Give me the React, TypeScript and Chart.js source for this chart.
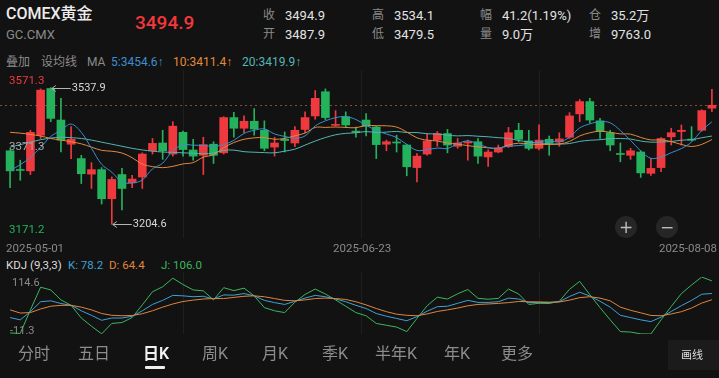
import React, { useEffect, useRef } from "react";
import { Chart, registerables } from "chart.js";

Chart.register(...registerables);

// ---------------- data ----------------
const dates = [
  "2025-05-01", "2025-05-02", "2025-05-05", "2025-05-06", "2025-05-07", "2025-05-08", "2025-05-09",
  "2025-05-12", "2025-05-13", "2025-05-14", "2025-05-15", "2025-05-16",
  "2025-05-19", "2025-05-20", "2025-05-21", "2025-05-22", "2025-05-23",
  "2025-05-27", "2025-05-28", "2025-05-29", "2025-05-30",
  "2025-06-02", "2025-06-03", "2025-06-04", "2025-06-05", "2025-06-06",
  "2025-06-09", "2025-06-10", "2025-06-11", "2025-06-12", "2025-06-13",
  "2025-06-16", "2025-06-17", "2025-06-18", "2025-06-20",
  "2025-06-23", "2025-06-24", "2025-06-25", "2025-06-26", "2025-06-27",
  "2025-06-30", "2025-07-01", "2025-07-02", "2025-07-03", "2025-07-04",
  "2025-07-07", "2025-07-08", "2025-07-09", "2025-07-10", "2025-07-11",
  "2025-07-14", "2025-07-15", "2025-07-16", "2025-07-17", "2025-07-18",
  "2025-07-21", "2025-07-22", "2025-07-23", "2025-07-24", "2025-07-25",
  "2025-07-28", "2025-07-29", "2025-07-30", "2025-07-31", "2025-08-01",
  "2025-08-04", "2025-08-05", "2025-08-06", "2025-08-07", "2025-08-08",
];

const opens = [
  3384, 3338, 3335, 3422, 3536, 3459, 3400, 3365, 3327, 3338,
  3267, 3326, 3306, 3320, 3384, 3403, 3376, 3429, 3386, 3373,
  3400, 3379, 3465, 3439, 3456, 3434, 3393, 3412, 3403, 3436,
  3469, 3528, 3446, 3467, 3432, 3459, 3442, 3400, 3405, 3398,
  3343, 3376, 3410, 3426, 3395, 3403, 3406, 3369, 3381, 3394,
  3434, 3408, 3390, 3412, 3406, 3417, 3474, 3504, 3457, 3428,
  3377, 3373, 3381, 3329, 3343, 3418, 3431, 3412, 3434, 3487.9,
];
const highs = [
  3386, 3361, 3434, 3535, 3537.9, 3512, 3443, 3373, 3355, 3343,
  3320, 3341, 3324, 3379, 3414, 3434, 3455, 3432, 3412, 3417,
  3406, 3467, 3478, 3469, 3487, 3457, 3417, 3430, 3443, 3479,
  3531, 3535, 3482, 3479, 3442, 3475, 3444, 3410, 3422, 3400,
  3377, 3426, 3431, 3436, 3414, 3410, 3414, 3386, 3398, 3441,
  3451, 3434, 3447, 3420, 3428, 3477, 3509, 3512, 3463, 3434,
  3403, 3390, 3384, 3365, 3416, 3439, 3447, 3443, 3484, 3534.1,
];
const lows = [
  3294, 3312, 3326, 3414, 3455, 3381, 3365, 3304, 3292, 3254,
  3204.6, 3240, 3294, 3292, 3376, 3363, 3371, 3371, 3361, 3326,
  3353, 3376, 3417, 3428, 3422, 3384, 3371, 3381, 3394, 3428,
  3461, 3460, 3444, 3441, 3417, 3420, 3365, 3384, 3381, 3323,
  3308, 3373, 3395, 3379, 3390, 3361, 3353, 3346, 3379, 3392,
  3406, 3386, 3386, 3373, 3395, 3414, 3455, 3452, 3414, 3384,
  3357, 3363, 3319, 3324, 3333, 3398, 3398, 3408, 3432, 3479.5,
];
const closes = [
  3335, 3336, 3429, 3532, 3463, 3410, 3412, 3328, 3338, 3267,
  3314, 3292, 3315, 3376, 3402, 3384, 3444, 3387, 3371, 3399,
  3373, 3465, 3439, 3456, 3437, 3390, 3403, 3409, 3434, 3465,
  3512, 3465, 3448, 3447, 3429, 3444, 3399, 3406, 3403, 3345,
  3371, 3408, 3426, 3398, 3403, 3406, 3371, 3381, 3391, 3428,
  3412, 3390, 3410, 3403, 3413, 3469, 3504, 3459, 3431, 3398,
  3375, 3384, 3330, 3341, 3414, 3428, 3434, 3410, 3482, 3494.9,
];

const ma5 = [
  3336, 3350, 3368, 3392, 3419.0, 3434.0, 3449.2, 3429.0, 3390.2, 3351.0,
  3331.8, 3307.8, 3305.2, 3312.8, 3339.8, 3353.8, 3384.2, 3398.6, 3397.6, 3397.0,
  3394.8, 3399.0, 3409.4, 3426.4, 3434.0, 3437.4, 3425.0, 3419.0, 3414.6, 3420.2,
  3444.6, 3457.0, 3464.8, 3467.4, 3460.2, 3446.6, 3433.4, 3425.0, 3416.2, 3399.4,
  3384.8, 3386.6, 3390.6, 3389.6, 3401.2, 3408.2, 3400.8, 3391.8, 3390.4, 3395.4,
  3396.6, 3400.4, 3406.2, 3408.6, 3405.6, 3417.0, 3439.8, 3449.6, 3455.2, 3452.2,
  3433.4, 3409.4, 3383.6, 3365.6, 3368.8, 3379.4, 3389.4, 3405.4, 3433.6, 3454.6,
];
const ma10 = [
  3429, 3427, 3424, 3420, 3414, 3410, 3406, 3401, 3393, 3385.0,
  3382.9, 3378.5, 3367.1, 3351.5, 3345.4, 3342.8, 3346.0, 3351.9, 3355.2, 3368.4,
  3374.3, 3391.6, 3404.0, 3412.0, 3415.5, 3416.1, 3412.0, 3414.2, 3420.5, 3427.1,
  3441.0, 3441.0, 3441.9, 3441.0, 3440.2, 3445.6, 3445.2, 3444.9, 3441.8, 3429.8,
  3415.7, 3410.0, 3407.8, 3402.9, 3400.3, 3396.5, 3393.7, 3391.2, 3390.0, 3398.3,
  3402.4, 3400.6, 3399.0, 3399.5, 3400.5, 3406.8, 3420.1, 3427.9, 3431.9, 3428.9,
  3425.2, 3424.6, 3416.6, 3410.4, 3410.5, 3406.4, 3399.4, 3394.5, 3399.6, 3411.4,
];
const ma20 = [
  3393, 3399, 3405, 3411, 3415, 3417, 3416, 3414, 3410, 3405,
  3400, 3395, 3390, 3386, 3383, 3381, 3380, 3379, 3378, 3376.7,
  3378.6, 3385.1, 3385.6, 3381.8, 3380.5, 3379.5, 3379.0, 3383.1, 3387.9, 3397.8,
  3407.7, 3416.3, 3423.0, 3426.5, 3427.9, 3430.9, 3428.6, 3429.6, 3431.2, 3428.5,
  3428.4, 3425.5, 3424.9, 3422.0, 3420.3, 3421.1, 3419.5, 3418.1, 3415.9, 3414.1,
  3409.1, 3405.3, 3403.4, 3401.2, 3400.4, 3401.7, 3406.9, 3409.6, 3411.0, 3413.6,
  3413.8, 3412.6, 3407.8, 3405.0, 3405.5, 3406.6, 3409.8, 3411.2, 3415.8, 3419.9,
];

const kValues = [
  25, 20, 38, 60, 62, 56, 52, 40, 30, 19,
  24, 24, 28, 40, 54, 63, 74, 73, 71, 72,
  66, 75, 74.5, 78, 73, 63, 58, 54, 61, 68,
  74, 71, 66, 60, 52, 45, 34, 28, 23, 18,
  27, 39, 49, 50, 56.5, 63, 58.5, 58.5, 60, 68,
  66, 58, 58.5, 58, 60, 71.5, 81, 72.5, 61, 48,
  30, 25, 20, 16, 26, 38.5, 51.3, 63, 76.5, 78.2,
];
const dValues = [
  42, 35, 36, 44, 50, 52, 52, 48, 42, 34,
  30, 29, 29.5, 33.5, 40, 48, 55, 60.5, 63.5, 66,
  67, 67, 69.5, 72, 73, 71, 67, 63, 62, 64,
  67, 68, 67, 65, 60, 53, 45, 38, 32.5, 30,
  29, 33, 38.5, 42, 46, 51, 54, 55, 56.3, 58,
  60.5, 60, 59.5, 59, 59.5, 63.5, 69, 71, 68, 62,
  48, 41, 35.5, 29.7, 29, 33, 38, 46, 57, 64.4,
];
const jValues = [
  -9, -10, 42, 92, 86, 64, 52, 24, 6, -11,
  12, 14, 25, 53, 82, 93, 112, 98, 86, 84,
  64, 91, 84.5, 90, 73, 47, 40, 36, 59, 76,
  88, 77, 64, 50, 36, 29, 12, 8, 4, -6,
  23, 51, 70, 66, 77.5, 87, 67.5, 65.5, 67.4, 88,
  77, 54, 56.5, 56, 61, 87.5, 105, 75.5, 47, 20,
  -6, -7, -11, -11.3, 20, 49.5, 78, 97, 114.6, 106.0,
];

const priceAxisLabels = [3571.3, 3371.3, 3171.2];
const kdjAxisLabels = [114.6, -11.3];
const dateTickLabels = ["2025-05-01", "2025-06-23", "2025-08-08"];
const lastPrice = 3494.9;

const statLabels = ["收", "高", "幅", "仓", "开", "低", "量", "增"];
const statValues = ["3494.9", "3534.1", "41.2(1.19%)", "35.2万", "3487.9", "3479.5", "9.0万", "9763.0"];
const maLegend = ["5:3454.6↑", "10:3411.4↑", "20:3419.9↑"];
const kdjLegend = ["K: 78.2", "D: 64.4", "J: 106.0"];
const tabs = ["分时", "五日", "日K", "周K", "月K", "季K", "半年K", "年K", "更多"];

// ---------------- styles ----------------
const FONT = "Roboto, 'Liberation Sans', 'Noto Sans CJK SC', sans-serif";
const BG = "#121212";
const RED = "#ee3a3f";
const GREEN = "#24b25c";
const C_MA5 = "#3b8fd0";
const C_MA10 = "#e5893b";
const C_MA20 = "#52b6b4";
const C_K = "#3ea2d6";
const C_D = "#e0853d";
const C_J = "#3db55d";
const GRID = "rgba(255,255,255,0.055)";

function drawQuarterGrid(chart: any, fromTop: number) {
  const { ctx, chartArea: a } = chart;
  ctx.save();
  ctx.strokeStyle = GRID;
  ctx.lineWidth = 1;
  for (let k = 1; k < 4; k++) {
    const x = Math.round(a.left + ((a.right - a.left) * k) / 4) + 0.5;
    ctx.beginPath();
    ctx.moveTo(x, fromTop);
    ctx.lineTo(x, a.bottom);
    ctx.stroke();
  }
  ctx.restore();
}

function drawMark(ctx: CanvasRenderingContext2D, x: number, y: number, label: string) {
  const yy = Math.round(y) + 0.5;
  ctx.strokeStyle = "#b5b5b5";
  ctx.lineWidth = 1;
  ctx.beginPath();
  ctx.moveTo(x + 1, yy);
  ctx.lineTo(x + 20, yy);
  ctx.moveTo(x + 5, yy - 3);
  ctx.lineTo(x + 1, yy);
  ctx.lineTo(x + 5, yy + 3);
  ctx.stroke();
  ctx.fillStyle = "#d6d6d6";
  ctx.font = `11px ${FONT}`;
  ctx.textAlign = "left";
  ctx.textBaseline = "middle";
  ctx.fillText(label, x + 21, yy);
}

const mainOverlay = {
  id: "mainOverlay",
  beforeDatasetsDraw(chart: any) {
    drawQuarterGrid(chart, 0);
    const { ctx } = chart;
    const y = Math.round(chart.scales.y.getPixelForValue(lastPrice)) + 0.5;
    ctx.save();
    ctx.setLineDash([2, 3]);
    ctx.strokeStyle = "rgba(205,120,70,0.6)";
    ctx.lineWidth = 1;
    ctx.beginPath();
    ctx.moveTo(0, y);
    ctx.lineTo(chart.width, y);
    ctx.stroke();
    ctx.restore();
  },
  afterDatasetsDraw(chart: any) {
    const { ctx, chartArea: a, scales } = chart;
    const xs = scales.x;
    const ys = scales.y;
    ctx.save();
    ctx.textBaseline = "middle";
    ctx.textAlign = "left";
    ctx.font = `11.5px ${FONT}`;
    const [top, mid, bottom] = priceAxisLabels;
    ctx.fillStyle = RED;
    ctx.fillText(top.toFixed(1), 9, ys.getPixelForValue(top) + 7);
    ctx.fillStyle = "#a8a8a8";
    ctx.fillText(mid.toFixed(1), 9, ys.getPixelForValue(mid) - 9);
    ctx.fillStyle = GREEN;
    ctx.fillText(bottom.toFixed(1), 9, ys.getPixelForValue(bottom) - 8);

    let hi = 0;
    let lo = 0;
    highs.forEach((h, i) => { if (h > highs[hi]) hi = i; });
    lows.forEach((l, i) => { if (l < lows[lo]) lo = i; });
    drawMark(ctx, xs.getPixelForValue(hi), ys.getPixelForValue(highs[hi]), highs[hi].toFixed(1));
    drawMark(ctx, xs.getPixelForValue(lo), ys.getPixelForValue(lows[lo]), lows[lo].toFixed(1));

    ctx.fillStyle = "#8a8a8a";
    ctx.font = `11.5px ${FONT}`;
    const yd = a.bottom + 11;
    ctx.textAlign = "left";
    ctx.fillText(dateTickLabels[0], a.left + 1, yd);
    ctx.textAlign = "center";
    ctx.fillText(dateTickLabels[1], xs.getPixelForValue(dates.indexOf(dateTickLabels[1])) - 4, yd);
    ctx.textAlign = "right";
    ctx.fillText(dateTickLabels[2], a.right, yd);
    ctx.restore();
  },
};

const kdjOverlay = {
  id: "kdjOverlay",
  beforeDatasetsDraw(chart: any) {
    drawQuarterGrid(chart, 0);
  },
};

type TP = { x: number; y: number; size: number; color: string; text: string; weight?: number; right?: boolean };
function Txt({ x, y, size, color, text, weight = 400, right }: TP) {
  const style: React.CSSProperties = {
    position: "absolute",
    top: y - size / 2,
    lineHeight: `${size}px`,
    fontSize: size,
    color,
    fontWeight: weight,
    whiteSpace: "nowrap",
    fontFamily: FONT,
  };
  if (right) style.right = 719 - x;
  else style.left = x;
  return <div style={style}>{text}</div>;
}

export default function App() {
  const mainRef = useRef<HTMLCanvasElement>(null);
  const kdjRef = useRef<HTMLCanvasElement>(null);

  useEffect(() => {
    document.body.style.margin = "0";
    document.body.style.background = BG;
    const colors = opens.map((o, i) => (closes[i] >= o ? RED : GREEN));
    const bodyData = opens.map((o, i) => [o, closes[i]]);
    const wickData = lows.map((l, i) => [l, highs[i]]);
    const lineDs = (label: string, data: number[], color: string) => ({
      type: "line" as const,
      label,
      data,
      borderColor: color,
      borderWidth: 1,
      pointRadius: 0,
      tension: 0.35,
      fill: false,
      order: 0,
    });

    const main = new Chart(mainRef.current!, {
      type: "bar",
      data: {
        labels: dates,
        datasets: [
          lineDs("MA5", ma5, C_MA5),
          lineDs("MA10", ma10, C_MA10),
          lineDs("MA20", ma20, C_MA20),
          {
            type: "bar",
            label: "body",
            data: bodyData as any,
            backgroundColor: colors,
            barThickness: 8,
            grouped: false,
            minBarLength: 1,
            order: 1,
          } as any,
          {
            type: "bar",
            label: "wick",
            data: wickData as any,
            backgroundColor: colors,
            barThickness: 1,
            grouped: false,
            order: 2,
          } as any,
        ],
      },
      options: {
        animation: false,
        responsive: false,
        events: [],
        layout: { padding: { left: 5, right: 2, top: 4, bottom: 18 } },
        plugins: { legend: { display: false }, tooltip: { enabled: false } },
        scales: {
          x: { type: "category", offset: true, display: false },
          y: { display: false, min: 3171.2, max: 3571.3, beginAtZero: false },
        },
      },
      plugins: [mainOverlay],
    });

    const kdjLine = (label: string, data: number[], color: string) => ({
      label,
      data,
      borderColor: color,
      borderWidth: 1,
      pointRadius: 0,
      tension: 0,
      fill: false,
    });
    const kdj = new Chart(kdjRef.current!, {
      type: "line",
      data: {
        labels: dates,
        datasets: [kdjLine("D", dValues, C_D), kdjLine("K", kValues, C_K), kdjLine("J", jValues, C_J)],
      },
      options: {
        animation: false,
        responsive: false,
        events: [],
        layout: { padding: { left: 5, right: 2, top: 5, bottom: 2 } },
        plugins: { legend: { display: false }, tooltip: { enabled: false } },
        scales: {
          x: { type: "category", offset: true, display: false },
          y: { display: false, min: -11.3, max: 114.6 },
        },
      },
      plugins: [kdjOverlay],
    });

    return () => {
      main.destroy();
      kdj.destroy();
    };
  }, []);

  const statCols = [263, 372, 480, 589];
  const statRows = [15, 34];
  const maX = [111, 173, 242];
  const maColors = [C_MA5, C_MA10, C_MA20];
  const kdjX = [68, 109, 161];
  const kdjColors = [C_K, C_D, C_J];
  const tabX = [18, 78, 143, 202, 262, 322, 375, 444, 501];

  return (
    <div style={{ position: "relative", width: 719, height: 378, background: BG, overflow: "hidden", fontFamily: FONT }}>
      <Txt x={6} y={14} size={16} color="#ececec" text="COMEX黄金" weight={500} />
      <Txt x={6} y={34} size={13} color="#8a8a8a" text="GC.CMX" />
      <Txt x={135} y={22} size={19} color="#f3373c" text={statValues[0]} weight={500} />
      {statLabels.map((l, i) => (
        <React.Fragment key={l}>
          <Txt x={statCols[i % 4]} y={statRows[Math.floor(i / 4)]} size={12} color="#8a8a8a" text={l} />
          <Txt x={statCols[i % 4] + 22} y={statRows[Math.floor(i / 4)]} size={13} color="#e2e2e2" text={statValues[i]} />
        </React.Fragment>
      ))}

      <Txt x={6} y={62} size={12} color="#8a8a8a" text="叠加" />
      <Txt x={41} y={62} size={12} color="#8a8a8a" text="设均线" />
      <Txt x={87} y={62} size={12} color="#8a8a8a" text="MA" />
      {maLegend.map((t, i) => (
        <Txt key={t} x={maX[i]} y={62} size={12} color={maColors[i]} text={t} />
      ))}

      <canvas ref={mainRef} width={719} height={186} style={{ position: "absolute", left: 0, top: 70 }} />

      {["+", "−"].map((s, i) => (
        <div
          key={s}
          style={{
            position: "absolute",
            left: 626 + i * 41 - 11,
            top: 227 - 11,
            width: 22,
            height: 22,
            borderRadius: 11,
            background: "#262626",
            color: "#bdbdbd",
            fontSize: 17,
            lineHeight: "22px",
            textAlign: "center",
            fontFamily: "'DejaVu Sans', sans-serif",
          }}
        >
          {s}
        </div>
      ))}

      <Txt x={6} y={266} size={11.5} color="#dcdcdc" text="KDJ (9,3,3)" />
      {kdjLegend.map((t, i) => (
        <Txt key={t} x={kdjX[i]} y={266} size={11.5} color={kdjColors[i]} text={t} />
      ))}

      <canvas ref={kdjRef} width={719} height={64} style={{ position: "absolute", left: 0, top: 272 }} />
      <Txt x={12} y={282} size={11} color="#8a8a8a" text={kdjAxisLabels[0].toFixed(1)} />
      <Txt x={10} y={330} size={11} color="#8a8a8a" text={kdjAxisLabels[1].toFixed(1)} />

      {tabs.map((t, i) => (
        <Txt key={t} x={tabX[i]} y={354} size={16} color={i === 2 ? "#f2f2f2" : "#8c8c8c"} text={t} weight={i === 2 ? 600 : 400} />
      ))}
      <div style={{ position: "absolute", left: 145, top: 366, width: 20, height: 2.5, borderRadius: 1, background: "#eeeeee" }} />
      <div style={{ position: "absolute", left: 668, top: 340, width: 51, height: 30, background: "#1b1b1b" }} />
      <Txt x={681} y={355} size={11} color="#dddddd" text="画线" />
    </div>
  );
}
